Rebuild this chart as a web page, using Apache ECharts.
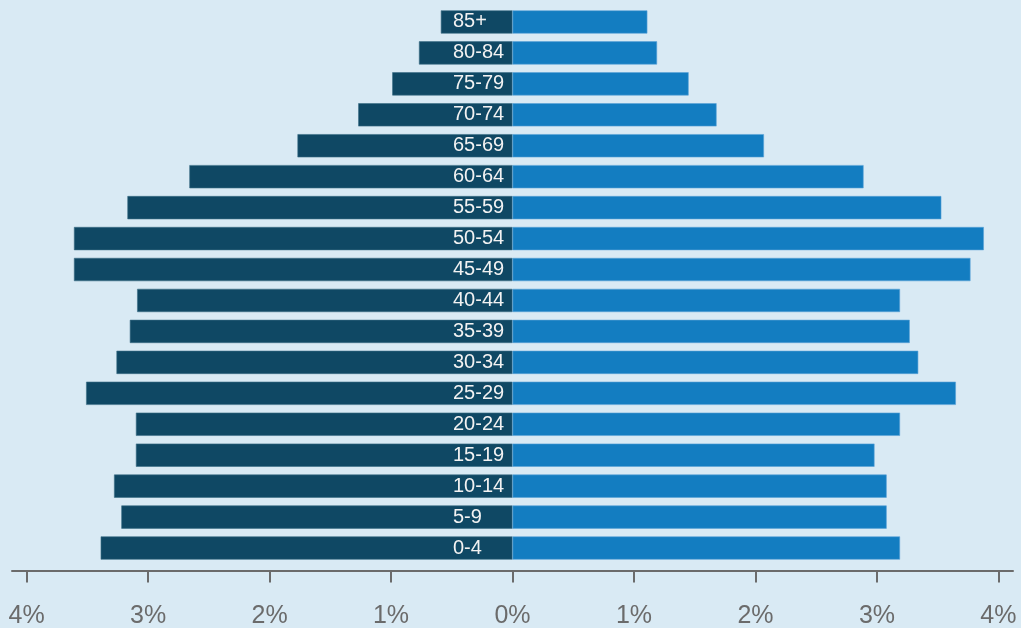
<!DOCTYPE html>
<html>
<head>
<meta charset="utf-8">
<script src="https://cdn.jsdelivr.net/npm/echarts@6/dist/echarts.min.js"></script>
<style>
  html, body { margin: 0; padding: 0; background: #d9eaf4; }
  #chart { width: 1021px; height: 628px; }
</style>
</head>
<body>
<div id="chart"></div>
<script>
// age groups, bottom to top
const ageGroups = ['0-4', '5-9', '10-14', '15-19', '20-24', '25-29', '30-34', '35-39', '40-44',
  '45-49', '50-54', '55-59', '60-64', '65-69', '70-74', '75-79', '80-84', '85+'];
// percent of population, left side
const leftShare = [3.39, 3.22, 3.28, 3.10, 3.10, 3.51, 3.26, 3.15, 3.09,
  3.61, 3.61, 3.17, 2.66, 1.77, 1.27, 0.99, 0.77, 0.59];
// percent of population, right side
const rightShare = [3.19, 3.08, 3.08, 2.98, 3.19, 3.65, 3.34, 3.27, 3.19,
  3.77, 3.88, 3.53, 2.89, 2.07, 1.68, 1.45, 1.19, 1.11];
const tickValues = [-4, -3, -2, -1, 0, 1, 2, 3, 4];

const chart = echarts.init(document.getElementById('chart'));
const colors = ['#0f4864', '#137dc1'];

const option = {
  backgroundColor: '#d9eaf4',
  animation: false,
  grid: {left: 12, right: 8, top: 6.5, bottom: 64.5, containLabel: false, outerBoundsMode: 'none'},
  xAxis: {
    type: 'value',
    min: -4.12,
    max: 4.12,
    offset: 7,
    splitLine: {show: false},
    axisLine: {show: true, lineStyle: {color: '#6b6b6b', width: 2}},
    axisTick: {show: true, length: 12, lineStyle: {color: '#6b6b6b', width: 2}, customValues: tickValues},
    axisLabel: {
      customValues: tickValues,
      margin: 33,
      color: '#6b6b6b',
      fontSize: 25,
      fontFamily: 'Liberation Sans, Arial, sans-serif',
      formatter: v => Math.abs(v) + '%'
    }
  },
  yAxis: {
    type: 'category',
    data: ageGroups,
    z: 10,
    position: 'left',
    offset: -501,
    axisLine: {show: false, onZero: false},
    axisTick: {show: false},
    axisLabel: {
      margin: 60,
      align: 'left',
      color: '#f2f2f2',
      fontSize: 20,
      fontFamily: 'Liberation Sans, Arial, sans-serif'
    }
  },
  series: [
    {
      type: 'bar',
      data: leftShare.map(v => -v),
      barWidth: '75%',
      barGap: '-100%',
      itemStyle: {color: colors[0], borderColor: '#3d6f87', borderWidth: 0.6}
    },
    {
      type: 'bar',
      data: rightShare,
      barWidth: '75%',
      itemStyle: {color: colors[1], borderColor: '#5aa3d6', borderWidth: 0.6}
    }
  ]
};
chart.setOption(option);
</script>
</body>
</html>
